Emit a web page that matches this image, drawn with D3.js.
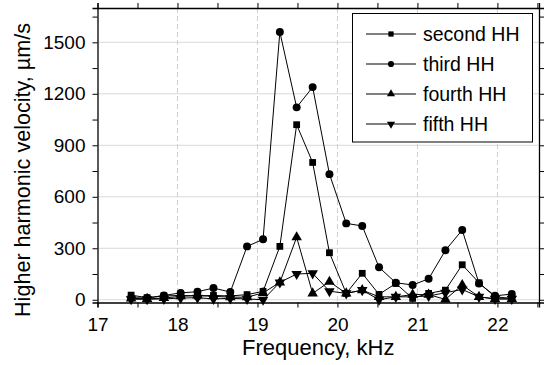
<!DOCTYPE html>
<html><head><meta charset="utf-8">
<script src="https://cdn.jsdelivr.net/npm/d3@7"></script>
<style>body{margin:0;background:#fff}svg{display:block}text{font-family:"Liberation Sans",Arial,sans-serif;fill:#000}</style>
</head><body><svg id="c" width="545" height="365"></svg>
<script>
const freq = [17.42,17.62,17.83,18.04,18.25,18.45,18.66,18.87,19.07,19.28,19.49,19.69,19.90,20.11,20.31,20.52,20.73,20.94,21.14,21.35,21.56,21.77,21.97,22.18];
const second = [27,12,22,25,22,25,22,30,49,311,1020,800,274,37,154,31,95,8,37,56,204,99,17,8];
const third  = [12,10,25,40,47,68,45,311,352,1560,1121,1239,732,445,430,189,99,86,122,288,406,95,23,33];
const fourth = [8,5,10,20,25,20,15,15,40,101,364,37,105,37,56,17,17,30,30,2,86,17,5,5];
const fifth  = [3,3,5,10,12,5,8,5,0,101,150,154,50,37,56,0,17,17,22,41,60,17,5,5];
const seriesNames = ["second HH","third HH","fourth HH","fifth HH"];
const xTicks = [17,18,19,20,21,22];
const yTicks = [0,300,600,900,1200,1500];

const svg = d3.select("#c");
const L=97.5, R=539, T=8, B=302.5;
const x = d3.scaleLinear().domain([17,22.52]).range([L,R]);
const y = d3.scaleLinear().domain([-16,1700]).range([B,T]);

// grid
svg.append("g").selectAll("line").data(yTicks).join("line")
  .attr("x1",L).attr("x2",R).attr("y1",d=>y(d)).attr("y2",d=>y(d))
  .attr("stroke","#d9d9d9").attr("stroke-width",1);
svg.append("g").selectAll("line").data(xTicks.slice(1)).join("line")
  .attr("x1",d=>x(d)).attr("x2",d=>x(d)).attr("y1",T).attr("y2",B)
  .attr("stroke","#d0d0d0").attr("stroke-width",1).attr("stroke-dasharray","5,3");

// axes
const fs = "19px";
const xMinor = d3.range(17,22.51,0.5);
const yMinor = d3.range(0,1651,150);
const gBottom = svg.append("g").attr("transform",`translate(0,${B})`)
  .call(d3.axisBottom(x).tickValues(xMinor).tickSize(5).tickFormat(d=>Number.isInteger(d)?d:""));
gBottom.selectAll("text").style("font-size",fs).attr("dy","1.09em");
const gTop = svg.append("g").attr("transform",`translate(0,${T})`)
  .call(d3.axisTop(x).tickValues(xMinor).tickSize(5).tickFormat(""));
const gLeft = svg.append("g").attr("transform",`translate(${L},0)`)
  .call(d3.axisLeft(y).tickValues(yMinor).tickSize(5).tickFormat(d=>d%300===0?d:""));
gLeft.selectAll("text").style("font-size",fs).attr("x",-12);
const gRight = svg.append("g").attr("transform",`translate(${R},0)`)
  .call(d3.axisRight(y).tickValues(yMinor).tickSize(5).tickFormat(""));
[gBottom,gTop,gLeft,gRight].forEach(g=>{
  g.select(".domain").attr("stroke-width",1.3).attr("stroke","#000");
  g.selectAll(".tick line").attr("stroke","#000").attr("stroke-width",1);
});

// lines and markers
const data = [second,third,fourth,fifth];
const syms = [d3.symbolSquare,d3.symbolCircle,d3.symbolTriangle,d3.symbolTriangle];
const sizes = [46,50,48,48];
const rot = [0,0,0,180];
const line = d3.line().x((d,i)=>x(freq[i])).y(d=>y(d));
data.forEach((s,k)=>{
  svg.append("path").attr("d",line(s)).attr("fill","none").attr("stroke","#000").attr("stroke-width",1);
});
data.forEach((s,k)=>{
  svg.append("g").selectAll("path").data(s).join("path")
    .attr("d",d3.symbol().type(syms[k]).size(sizes[k]))
    .attr("transform",(d,i)=>`translate(${x(freq[i])},${y(d)}) rotate(${rot[k]})`)
    .attr("fill","#000");
});

// legend
const lg = svg.append("g");
lg.append("rect").attr("x",352.5).attr("y",13.5).attr("width",180).attr("height",128.5)
  .attr("fill","#fff").attr("stroke","#000").attr("stroke-width",1);
seriesNames.forEach((n,k)=>{
  const yy = 34 + k*30;
  lg.append("line").attr("x1",366).attr("x2",416).attr("y1",yy).attr("y2",yy).attr("stroke","#000");
  lg.append("path").attr("d",d3.symbol().type(syms[k]).size(sizes[k]*0.6))
    .attr("transform",`translate(391,${yy}) rotate(${rot[k]})`).attr("fill","#000");
  lg.append("text").attr("x",423).attr("y",yy).attr("dy","0.35em").style("font-size","19.5px").text(n);
});

// titles
svg.append("text").attr("x",(L+R)/2).attr("y",355).attr("text-anchor","middle").style("font-size","22px").text("Frequency, kHz");
svg.append("text").attr("transform",`translate(30,170) rotate(-90)`).attr("text-anchor","middle")
  .style("font-size","21.6px").text("Higher harmonic velocity, µm/s");
</script></body></html>
